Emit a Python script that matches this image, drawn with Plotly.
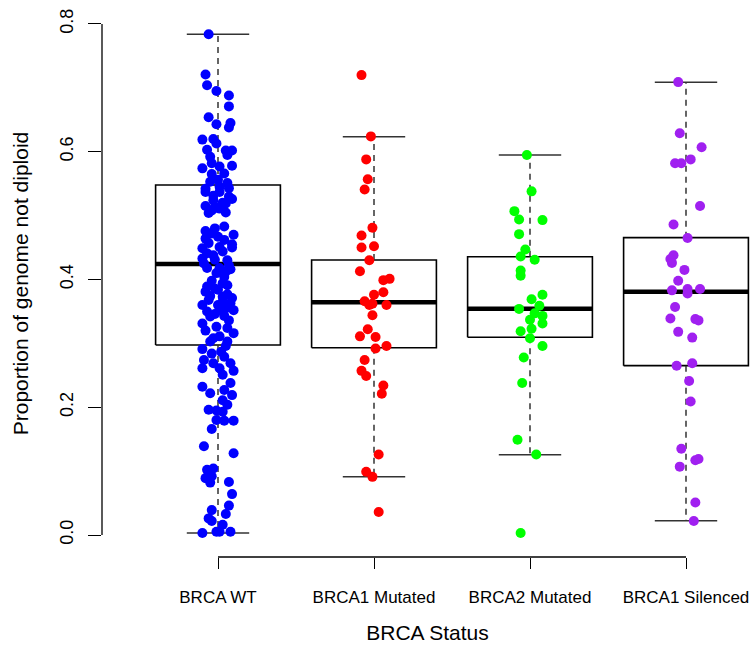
import plotly.graph_objects as go

# Groups and colours
categories = ["BRCA WT", "BRCA1 Mutated", "BRCA2 Mutated", "BRCA1 Silenced"]
colors = ["#0000FF", "#FF0000", "#00FF00", "#A020F0"]

# Box statistics per group: lower whisker, Q1, median, Q3, upper whisker
whisker_lo = [0.003, 0.0913, 0.1257, 0.0224]
q1 = [0.2975, 0.2932, 0.3095, 0.2651]
median = [0.4243, 0.3643, 0.3543, 0.3809]
q3 = [0.548, 0.4305, 0.4357, 0.4655]
whisker_hi = [0.784, 0.6236, 0.5949, 0.7087]

# Per-sample proportions, with the horizontal jitter used for each point (category units)
wt_values = [
    0.784, 0.721, 0.704, 0.695, 0.688, 0.671, 0.654, 0.643, 0.645, 0.638,
    0.619, 0.620, 0.613, 0.603, 0.602, 0.602, 0.595, 0.592, 0.574, 0.582,
    0.577, 0.578, 0.565, 0.566, 0.553, 0.556, 0.551, 0.542, 0.545, 0.543,
    0.531, 0.530, 0.537, 0.537, 0.524, 0.520, 0.515, 0.514, 0.519, 0.504,
    0.508, 0.505, 0.476, 0.480, 0.483, 0.470, 0.464, 0.467, 0.462, 0.457,
    0.449, 0.451, 0.450, 0.441, 0.444, 0.433, 0.431, 0.430, 0.418, 0.418,
    0.416, 0.410, 0.404, 0.394, 0.389, 0.391, 0.381, 0.384, 0.374, 0.373,
    0.365, 0.371, 0.360, 0.360, 0.363, 0.350, 0.352, 0.352, 0.342, 0.343,
    0.331, 0.326, 0.324, 0.316, 0.311, 0.303, 0.303, 0.291, 0.284, 0.279,
    0.269, 0.269, 0.261, 0.261, 0.257, 0.251, 0.238, 0.232, 0.227, 0.222,
    0.219, 0.211, 0.204, 0.196, 0.195, 0.193, 0.180, 0.179, 0.179, 0.166,
    0.139, 0.128, 0.102, 0.104, 0.089, 0.092, 0.082, 0.083, 0.064, 0.046,
    0.039, 0.033, 0.026, 0.022, 0.016, 0.003, 0.005, 0.005, 0.005,
    0.526, 0.511, 0.472, 0.455, 0.438, 0.425, 0.422, 0.412, 0.398, 0.386,
    0.377, 0.368, 0.355, 0.346, 0.336, 0.320, 0.308, 0.296, 0.287, 0.274,
]
wt_jitter = [
    -0.06, -0.08, -0.07, -0.01, 0.07, 0.07, -0.06, -0.01, 0.08, 0.07,
    -0.10, -0.03, -0.01, -0.07, 0.05, 0.09, 0.06, -0.05, -0.10, -0.04,
    0.01, 0.09, -0.04, 0.04, -0.05, 0.00, 0.06, -0.08, 0.01, 0.07,
    -0.03, 0.07, -0.08, 0.01, -0.03, 0.03, -0.08, -0.02, 0.05, -0.06,
    -0.04, 0.05, -0.08, -0.02, 0.04, 0.10, -0.08, 0.00, 0.04, -0.06,
    -0.10, 0.01, 0.09, -0.07, 0.03, -0.10, -0.02, 0.06, -0.07, 0.01,
    0.08, -0.01, 0.04, 0.03, -0.07, 0.06, -0.08, 0.00, -0.05, 0.03,
    0.03, 0.09, -0.10, 0.00, 0.08, -0.07, 0.01, 0.10, -0.05, 0.04,
    -0.10, -0.01, 0.06, 0.10, 0.01, -0.05, 0.06, -0.10, -0.04, 0.04,
    -0.03, 0.08, -0.10, 0.01, 0.10, 0.03, 0.08, -0.10, 0.04, -0.05,
    0.09, 0.03, 0.06, -0.06, -0.01, 0.03, -0.01, 0.04, 0.10, -0.04,
    -0.09, 0.10, -0.07, -0.03, -0.08, -0.04, -0.05, 0.07, 0.09, 0.07,
    -0.04, 0.05, -0.06, -0.04, 0.03, -0.10, -0.01, 0.01, 0.08,
    0.09, 0.01, -0.04, 0.09, -0.03, -0.09, 0.07, 0.05, -0.04, -0.02,
    0.06, -0.06, 0.05, -0.02, 0.07, -0.08, -0.03, 0.05, 0.02, -0.09,
]

brca1_mut_values = [
    0.720, 0.624, 0.588, 0.557, 0.541, 0.481, 0.469, 0.450, 0.452, 0.430,
    0.413, 0.399, 0.401, 0.376, 0.380, 0.366, 0.360, 0.362, 0.360, 0.344,
    0.322, 0.311, 0.310, 0.292, 0.296, 0.274, 0.257, 0.249, 0.234, 0.221,
    0.126, 0.099, 0.091, 0.036,
]
brca1_mut_jitter = [
    -0.08, -0.02, -0.05, -0.04, -0.06, -0.01, -0.08, -0.08, 0.00, -0.03,
    -0.09, 0.06, 0.10, 0.00, 0.06, -0.06, -0.03, -0.01, 0.08, -0.01,
    -0.04, -0.09, 0.01, 0.01, 0.08, -0.06, -0.08, -0.05, 0.06, 0.05,
    0.03, -0.05, -0.01, 0.03,
]

brca2_mut_values = [
    0.595, 0.538, 0.507, 0.494, 0.493, 0.471, 0.447, 0.436, 0.431, 0.414,
    0.406, 0.376, 0.369, 0.359, 0.354, 0.347, 0.343, 0.337, 0.331, 0.323,
    0.319, 0.308, 0.296, 0.278, 0.238, 0.149, 0.126, 0.003,
]
brca2_mut_jitter = [
    -0.02, 0.01, -0.10, -0.07, 0.08, -0.07, -0.03, -0.06, 0.03, -0.06,
    -0.06, 0.08, 0.01, 0.06, -0.07, 0.03, 0.08, 0.00, 0.08, 0.01,
    -0.06, 0.00, 0.08, -0.04, -0.05, -0.08, 0.04, -0.06,
]

brca1_sil_values = [
    0.709, 0.629, 0.607, 0.582, 0.582, 0.588, 0.515, 0.486, 0.465, 0.438,
    0.432, 0.426, 0.415, 0.398, 0.383, 0.385, 0.385, 0.378, 0.357, 0.339,
    0.338, 0.336, 0.318, 0.309, 0.265, 0.269, 0.241, 0.209, 0.135, 0.117,
    0.119, 0.107, 0.051, 0.022,
]
brca1_sil_jitter = [
    -0.05, -0.04, 0.10, -0.07, -0.03, 0.03, 0.09, -0.08, 0.01, -0.08,
    -0.10, -0.09, -0.01, -0.05, -0.09, 0.01, 0.09, 0.01, -0.07, -0.10,
    0.06, 0.08, -0.05, 0.04, -0.06, 0.04, 0.02, 0.03, -0.03, 0.06,
    0.08, -0.04, 0.06, 0.05,
]

group_values = [wt_values, brca1_mut_values, brca2_mut_values, brca1_sil_values]
group_jitter = [wt_jitter, brca1_mut_jitter, brca2_mut_jitter, brca1_sil_jitter]

y_ticks = [0.0, 0.2, 0.4, 0.6, 0.8]

FONT = "Liberation Sans, Arial, Helvetica, sans-serif"
BOX_HALF = 0.4
CAP_HALF = 0.2

fig = go.Figure()

# Boxes, medians, whiskers and staples
for i, name in enumerate(categories):
    pos = i + 1
    fig.add_trace(go.Scatter(
        x=[pos - BOX_HALF, pos + BOX_HALF, pos + BOX_HALF, pos - BOX_HALF, pos - BOX_HALF],
        y=[q1[i], q1[i], q3[i], q3[i], q1[i]],
        mode="lines", line=dict(color="black", width=1.6),
        hoverinfo="skip", showlegend=False))
    fig.add_trace(go.Scatter(
        x=[pos, pos, None, pos, pos],
        y=[q3[i], whisker_hi[i], None, q1[i], whisker_lo[i]],
        mode="lines", line=dict(color="#333333", width=1.5, dash="6px,5px"),
        hoverinfo="skip", showlegend=False))
    fig.add_trace(go.Scatter(
        x=[pos - CAP_HALF, pos + CAP_HALF, None, pos - CAP_HALF, pos + CAP_HALF],
        y=[whisker_hi[i], whisker_hi[i], None, whisker_lo[i], whisker_lo[i]],
        mode="lines", line=dict(color="#333333", width=1.5),
        hoverinfo="skip", showlegend=False))
    fig.add_trace(go.Scatter(
        x=[pos - BOX_HALF, pos + BOX_HALF],
        y=[median[i], median[i]],
        mode="lines", line=dict(color="black", width=4.5),
        hoverinfo="skip", showlegend=False))

# Jittered sample points
for i, name in enumerate(categories):
    pos = i + 1
    fig.add_trace(go.Scatter(
        x=[pos + j for j in group_jitter[i]],
        y=group_values[i],
        mode="markers", name=name,
        marker=dict(color=colors[i], size=10, line=dict(width=0)),
        showlegend=False))

# R-style axis lines spanning only the tick range
fig.add_shape(type="line", xref="paper", yref="y", x0=0, x1=0,
              y0=y_ticks[0], y1=y_ticks[-1], line=dict(color="black", width=1.3))
fig.add_shape(type="line", xref="x", yref="paper", x0=1, x1=len(categories),
              y0=0, y1=0, line=dict(color="black", width=1.3))

fig.update_layout(
    width=753, height=646,
    margin=dict(l=102, r=0, t=10, b=89, autoexpand=False),
    plot_bgcolor="white", paper_bgcolor="white",
    font=dict(family=FONT, color="black"),
    xaxis=dict(
        range=[0.2564, 4.4295], showgrid=False, zeroline=False, showline=False,
        tickmode="array", tickvals=list(range(1, len(categories) + 1)), ticktext=categories,
        ticks="outside", ticklen=11, tickwidth=1.3, tickcolor="black",
        tickfont=dict(size=17, family=FONT), automargin=False, ticklabelstandoff=14,
        title=dict(text="BRCA Status", font=dict(size=21, family=FONT), standoff=18),
    ),
    yaxis=dict(
        range=[-0.03444, 0.8219], showgrid=False, zeroline=False, showline=False,
        tickmode="array", tickvals=y_ticks, ticktext=[f"{v:.1f}" for v in y_ticks],
        ticks="outside", ticklen=13, tickwidth=1.3, tickcolor="black", tickangle=-90,
        tickfont=dict(size=18, family=FONT), automargin=False, ticklabelstandoff=8,
        title=dict(text="Proportion of genome not diploid", font=dict(size=21, family=FONT), standoff=22),
    ),
)

fig.write_html("out.html")
